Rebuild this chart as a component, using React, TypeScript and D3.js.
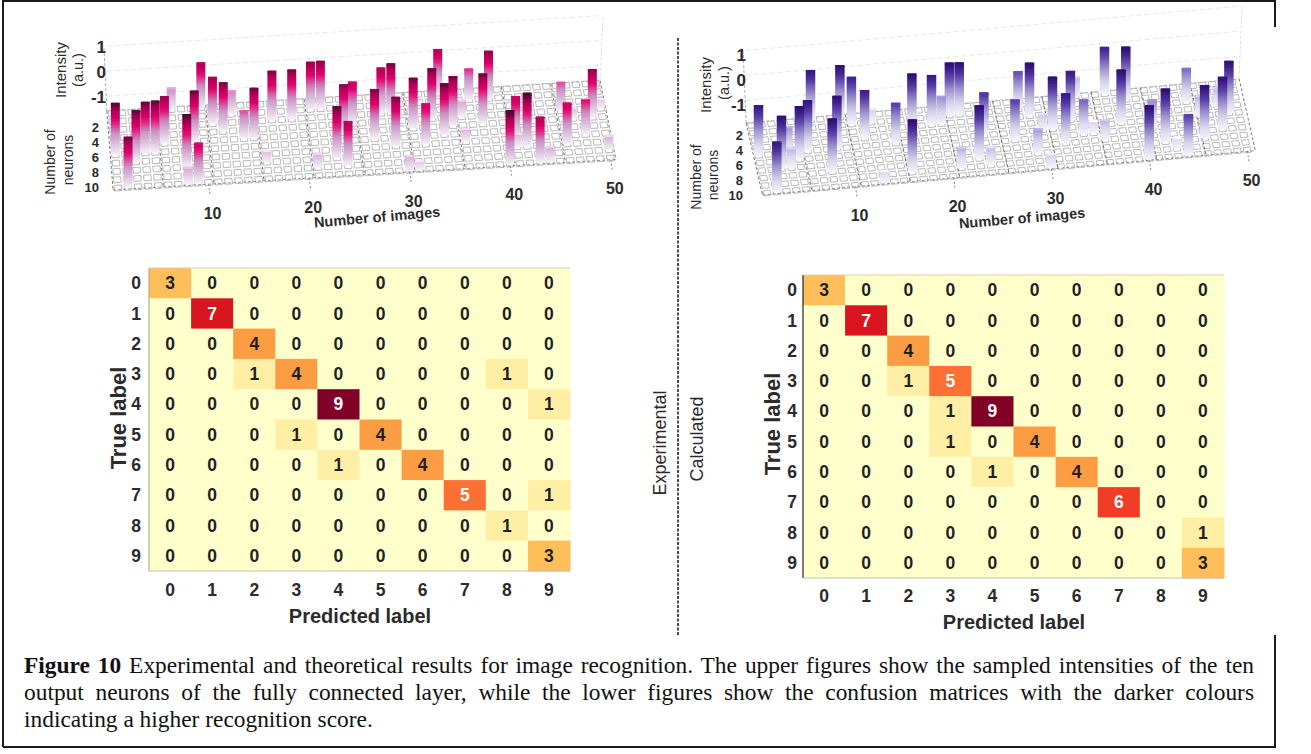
import * as d3 from "d3";
import React, { useLayoutEffect, useRef } from "react";

// upper left plot (experimental), one entry per bar
const expImages = [1,2,3,4,5,6,7,8,8,9,9,10,11,12,13,14,15,16,17,19,21,21,22,23,24,24,25,27,28,29,29,30,31,31,32,33,34,34,35,36,36,37,38,39,40,41,41,42,43,44,46,46,47,48,49,50,50];
const expNeurons = [6,10,7,6,6,5,1,8,10,5,10,1,3,4,2,5,5,8,3,3,2,9,2,8,5,9,4,6,3,3,7,10,5,10,7,4,1,6,5,4,7,2,5,2,10,7,8,8,10,10,4,8,5,7,5,4,9];
const expIntensity = [0.48,0.43,0.48,0.45,0.47,0.3,-0.71,0.52,-0.92,0.44,0.02,0.22,0.28,0.37,-0.63,-0.46,0.41,-1.11,0.38,0.38,0.31,-1.01,0.32,0.48,0.33,0.19,0.08,0.4,0.24,0.38,0.37,-0.99,0.42,-1.21,0.04,0.42,0.17,0.46,0.39,-0.93,-1.05,-0.35,0.42,0.31,0.57,0.11,-1.04,0.55,0.23,-0.97,-0.44,0.06,-1.13,-0.2,0.33,-1.19,-1.01];

// upper right plot (calculated)
const calcImages = [1,2,3,4,4,5,6,7,8,9,10,11,12,13,13,15,16,17,19,20,21,21,22,23,24,24,27,28,29,29,30,30,31,32,33,34,34,35,36,37,38,39,40,41,42,43,44,45,46,46,48,48,49];
const calcNeurons = [5,10,7,5,7,6,5,1,8,5,1,2,4,2,10,5,9,3,3,3,2,9,2,8,5,9,6,2,3,8,5,10,5,7,4,1,6,6,7,1,5,2,10,6,8,9,10,3,5,8,4,7,5];
const calcIntensity = [0.12,0.12,0.22,-0.85,-1.1,0.24,0.14,0.11,0.24,0.21,0.2,0,0.03,-1.32,-1.4,-0.28,0.22,0.22,0.09,-0.78,0.22,-1.05,0.19,0.24,-0.18,-1.16,-0.27,-0.37,0.23,-0.9,-1.22,-1.32,0.2,0.1,0.06,-1.11,-0.51,-1.38,-1.07,-0.02,0.24,0.22,0.25,-0.76,0.24,-1.43,-0.26,-0.54,-1.06,0.24,-1.13,0.2,0.2];

const imageTicks = [10, 20, 30, 40, 50];
const neuronTicks = [2, 4, 6, 8, 10];
const intensityTicks = [1, 0, -1];
const labels = d3.range(10);

const expMatrix = [
  [3,0,0,0,0,0,0,0,0,0],
  [0,7,0,0,0,0,0,0,0,0],
  [0,0,4,0,0,0,0,0,0,0],
  [0,0,1,4,0,0,0,0,1,0],
  [0,0,0,0,9,0,0,0,0,1],
  [0,0,0,1,0,4,0,0,0,0],
  [0,0,0,0,1,0,4,0,0,0],
  [0,0,0,0,0,0,0,5,0,1],
  [0,0,0,0,0,0,0,0,1,0],
  [0,0,0,0,0,0,0,0,0,3],
];
const calcMatrix = [
  [3,0,0,0,0,0,0,0,0,0],
  [0,7,0,0,0,0,0,0,0,0],
  [0,0,4,0,0,0,0,0,0,0],
  [0,0,1,5,0,0,0,0,0,0],
  [0,0,0,1,9,0,0,0,0,0],
  [0,0,0,1,0,4,0,0,0,0],
  [0,0,0,0,1,0,4,0,0,0],
  [0,0,0,0,0,0,0,6,0,0],
  [0,0,0,0,0,0,0,0,0,1],
  [0,0,0,0,0,0,0,0,0,3],
];

const SANS = "'Liberation Sans', Arial, sans-serif";
const SERIF = "'Liberation Serif', 'Times New Roman', serif";
const TEXT = "#2b2b2b";

function Bars3D(props: any) {
  const { id, images, neurons, intensity, geo, stops, l } = props;
  const xI = d3.scaleLinear().domain([1, 50]).range(geo.xI);
  const yI = d3.scaleLinear().domain([1, 50]).range(geo.yI);
  const slope = d3.scaleLinear().domain([1, 50]).range(geo.slope);
  const zH = d3.scaleLinear().domain([geo.floor, geo.floor + 1]).range([0, 25]);
  const ramp = d3.scaleLinear<string>().domain(stops.map((s: any) => s[0])).range(stops.map((s: any) => s[1])).clamp(true);

  const px = (i: number, n: number) => xI(i) - (10 - n) * slope(i);
  const py = (i: number, n: number) => yI(i) - (10 - n) * geo.dn;
  const quad = (pts: number[][]) => {
    const p = d3.path();
    pts.forEach((q, k) => (k ? p.lineTo(q[0], q[1]) : p.moveTo(q[0], q[1])));
    p.closePath();
    return p.toString();
  };

  const [i0, i1] = geo.iRange;
  const [n0, n1] = geo.nRange;
  const cells: string[] = [];
  d3.range(1, 51).forEach((i) =>
    d3.range(1, 11).forEach((n) => {
      cells.push(quad([
        [px(i - 0.36, n - 0.34), py(i - 0.36, n - 0.34)],
        [px(i + 0.36, n - 0.34), py(i + 0.36, n - 0.34)],
        [px(i + 0.36, n + 0.34), py(i + 0.36, n + 0.34)],
        [px(i - 0.36, n + 0.34), py(i - 0.36, n + 0.34)],
      ]));
    })
  );

  const order = d3.range(images.length).sort((a, b) => neurons[a] - neurons[b] || images[a] - images[b]);
  const w = geo.barW;

  return (
    <g>
      <defs>
        <filter id={id + "-soft"} x="-5%" y="-5%" width="110%" height="110%">
          <feGaussianBlur stdDeviation="0.35" />
        </filter>
        {order.map((k) => (
          <linearGradient key={k} id={`${id}-b${k}`} x1={0} x2={0} y1={0} y2={1}>
            {d3.range(0, 1.01, 0.1).map((t) => (
              <stop key={t} offset={`${t * 100}%`} stopColor={ramp((1 - t) * zH(intensity[k]))} />
            ))}
          </linearGradient>
        ))}
      </defs>

      <g filter={`url(#${id}-soft)`}>
        {/* back walls */}
        {intensityTicks.map((z) => (
          <line key={z} x1={px(i0, n0)} x2={px(i1, n0)} y1={py(i0, n0) - zH(z)} y2={py(i1, n0) - zH(z)} stroke="#e6e6e6" strokeDasharray="5 3" />
        ))}
        <line x1={px(i0, n0)} x2={px(i0, n0) - 3} y1={py(i0, n0)} y2={py(i0, n0) - zH(1)} stroke="#aaa" strokeDasharray="3 2" />
        <line x1={px(i1, n0)} x2={px(i1, n0) + 3} y1={py(i1, n0)} y2={py(i1, n0) - zH(1)} stroke="#ddd" strokeDasharray="3 2" />

        {/* floor */}
        {cells.map((d, k) => (
          <path key={k} d={d} fill="#fff" stroke="#a8a8a8" strokeWidth={0.8} />
        ))}
        {d3.range(0, 11).map((k) => {
          const i = i0 + ((i1 - i0) * k) / 10;
          return <line key={k} x1={px(i, n0)} x2={px(i, n1)} y1={py(i, n0)} y2={py(i, n1)} stroke="#555" strokeWidth={0.8} strokeDasharray="3 2" />;
        })}
        <line x1={px(i0, n1)} x2={px(i1, n1)} y1={py(i0, n1)} y2={py(i1, n1)} stroke="#777" strokeWidth={0.8} strokeDasharray="3 2" />
        <line x1={px(i0, n0)} x2={px(i1, n0)} y1={py(i0, n0)} y2={py(i1, n0)} stroke="#aaa" strokeWidth={0.7} strokeDasharray="3 2" />

        {/* tick marks */}
        {imageTicks.map((t) => (
          <line key={t} x1={px(t, n1)} x2={px(t, n1) + 1.5} y1={py(t, n1)} y2={py(t, n1) + 11} stroke="#888" strokeDasharray="2 2" />
        ))}

        {/* bars, back row first */}
        {order.map((k) => {
          const x = px(images[k], neurons[k]);
          const base = py(images[k], neurons[k]);
          const h = zH(intensity[k]);
          return (
            <g key={k}>
              <rect x={x - w / 2} y={base - h} width={w} height={h} fill={`url(#${id}-b${k})`} />
              <path
                d={quad([[x - w / 2, base - h + 2], [x + w / 2, base - h + 2], [x + w / 2 - 1, base - h], [x - w / 2 + 1, base - h]])}
                fill={d3.color(ramp(h))!.brighter(0.5).formatHex()}
              />
            </g>
          );
        })}
      </g>

      {/* axis text */}
      <g fontFamily={SANS} fill={TEXT}>
        {imageTicks.map((t) => (
          <text key={t} x={px(t, n1) + 4} y={py(t, n1) + 29} dy="0.35em" textAnchor="middle" fontSize={16} fontWeight="bold">{t}</text>
        ))}
        {intensityTicks.map((t, k) => (
          <text key={t} x={l.zX} y={l.zY[k]} dy="0.35em" textAnchor="end" fontSize={17} fontWeight="bold">{t}</text>
        ))}
        {neuronTicks.map((t, k) => (
          <text key={t} x={l.nX} y={l.nY[k]} dy="0.35em" textAnchor="end" fontSize={13} fontWeight="bold">{t}</text>
        ))}
        <text transform={`translate(${l.int[0]},${l.int[1]}) rotate(-90)`} textAnchor="middle" dy="0.35em" fontSize={15}>Intensity</text>
        <text transform={`translate(${l.au[0]},${l.au[1]}) rotate(-90)`} textAnchor="middle" dy="0.35em" fontSize={14.5}>(a.u.)</text>
        <text transform={`translate(${l.num[0]},${l.num[1]}) rotate(-90)`} textAnchor="middle" dy="0.35em" fontSize={14}>Number of</text>
        <text transform={`translate(${l.neu[0]},${l.neu[1]}) rotate(-90)`} textAnchor="middle" dy="0.35em" fontSize={14}>neurons</text>
        <text transform={`translate(${l.img[0]},${l.img[1]}) rotate(-5)`} textAnchor="middle" dy="0.35em" fontSize={14.5} fontWeight="bold">Number of images</text>
      </g>
    </g>
  );
}

function Matrix(props: any) {
  const { values, left, top, rowX, colY, trueAt, predAt, border } = props;
  const x = d3.scaleBand<number>().domain(labels).range([left, left + 421]);
  const y = d3.scaleBand<number>().domain(labels).range([top, top + 303]);
  const color = d3.scaleSequential(d3.interpolateYlOrRd).domain([0, 9]);

  return (
    <g fontFamily={SANS} fontWeight="bold">
      {values.map((row: number[], r: number) =>
        row.map((v: number, c: number) => (
          <rect key={`${r}-${c}`} x={x(c)} y={y(r)} width={x.bandwidth() + 0.5} height={y.bandwidth() + 0.5} fill={color(v)} />
        ))
      )}
      <line x1={left} x2={left} y1={top} y2={top + 303} stroke={border} strokeWidth={1.2} />
      <line x1={left} x2={left + 421} y1={top} y2={top} stroke="#d8d0a8" />
      <line x1={left} x2={left + 421} y1={top + 303} y2={top + 303} stroke="#c4c4b0" />
      {values.map((row: number[], r: number) =>
        row.map((v: number, c: number) => (
          <text key={`${r}-${c}`} x={x(c)! + x.bandwidth() / 2} y={y(r)! + y.bandwidth() / 2} dy="0.35em" textAnchor="middle" fontSize={17.5} fill={v >= 5 ? "#fff" : "#1f1f1f"}>{v}</text>
        ))
      )}
      {labels.map((t) => (
        <text key={t} x={rowX} y={y(t)! + y.bandwidth() / 2} dy="0.35em" textAnchor="middle" fontSize={17.5} fill={TEXT}>{t}</text>
      ))}
      {labels.map((t) => (
        <text key={t} x={x(t)! + x.bandwidth() / 2} y={colY} dy="0.35em" textAnchor="middle" fontSize={17.5} fill={TEXT}>{t}</text>
      ))}
      <text transform={`translate(${trueAt[0]},${trueAt[1]}) rotate(-90)`} textAnchor="middle" dy="0.35em" fontSize={22} fill={TEXT}>True label</text>
      <text x={predAt[0]} y={predAt[1]} textAnchor="middle" dy="0.35em" fontSize={20} fill={TEXT}>Predicted label</text>
    </g>
  );
}

const pinkStops = [[0, "#f6eff6"], [10, "#dcc4de"], [22, "#c98cc2"], [34, "#e4006c"], [46, "#a00050"], [53, "#3a0a26"]];
const blueStops = [[0, "#f4f3fa"], [12, "#d9d5ec"], [26, "#9c90cc"], [40, "#5236a4"], [53, "#2a0a6a"]];

const expGeo = { xI: [118, 610.5], yI: [188, 158.1], slope: [0.67, 1.65], dn: 8.3, floor: -1.6, barW: 9, iRange: [0.5, 50.5], nRange: [0.7, 10.2] };
const calcGeo = { xI: [767, 1247.2], yI: [193, 149.9], slope: [1.7, 1.7], dn: 7.5, floor: -1.9, barW: 9.5, iRange: [0.5, 50.8], nRange: [0.6, 10.2] };

const expLabels = { zX: 106, zY: [47, 72, 97], nX: 99, nY: [127, 142, 157, 172, 187], int: [61, 70], au: [78, 70], num: [50, 162], neu: [68, 160], img: [377, 217] };
const calcLabels = { zX: 746, zY: [55, 80, 105], nX: 743, nY: [135, 150, 165, 180, 195], int: [706, 85], au: [724, 83], num: [696, 177], neu: [713, 175], img: [1022, 218] };

const captionLines = [
  { bold: "Figure 10", rest: " Experimental and theoretical results for image recognition. The upper figures show the sampled intensities of the ten" },
  { bold: "", rest: "output neurons of the fully connected layer, while the lower figures show the confusion matrices with the darker colours" },
  { bold: "", rest: "indicating a higher recognition score.", last: true },
];

export default function App() {
  const capRef = useRef<SVGGElement>(null);

  // justify the caption the way the page does
  useLayoutEffect(() => {
    d3.select(capRef.current).selectAll<SVGTextElement, unknown>("text.just").each(function () {
      const gaps = (this.textContent || "").trim().split(/\s+/).length - 1;
      const len = this.getComputedTextLength();
      this.style.wordSpacing = `${(1230 - len) / gaps}px`;
    });
  }, []);

  return (
    <svg width={1311} height={754} style={{ position: "absolute", left: 0, top: 0, background: "#fff", display: "block" }}>
      {/* frame */}
      <path d="M3,747 L3,1 L1275,1 L1275,27 M1275,635 L1275,747 L3,747" fill="none" stroke="#1a1a1a" strokeWidth={2} />

      <Bars3D id="exp" images={expImages} neurons={expNeurons} intensity={expIntensity} geo={expGeo} stops={pinkStops} l={expLabels} />
      <Bars3D id="calc" images={calcImages} neurons={calcNeurons} intensity={calcIntensity} geo={calcGeo} stops={blueStops} l={calcLabels} />

      <Matrix values={expMatrix} left={149} top={268} rowX={136} colY={590} trueAt={[118, 418]} predAt={[360, 616]} border="#b8ad85" />
      <Matrix values={calcMatrix} left={803} top={275} rowX={792} colY={596} trueAt={[772, 424]} predAt={[1014, 622]} border="#222" />

      {/* divider */}
      <line x1={678} x2={678} y1={38} y2={635} stroke="#111" strokeWidth={1.5} strokeDasharray="3 1.5" />
      <g fontFamily={SANS} fontSize={18} fill={TEXT}>
        <text transform="translate(660,443) rotate(-90)" textAnchor="middle" dy="0.35em">Experimental</text>
        <text transform="translate(697,439) rotate(-90)" textAnchor="middle" dy="0.35em">Calculated</text>
      </g>

      {/* caption */}
      <g ref={capRef} fontFamily={SERIF} fontSize={23.4} fill="#111">
        {captionLines.map((c, k) => (
          <text key={k} className={c.last ? "" : "just"} x={24} y={672.5 + k * 27} xmlSpace="preserve">
            {c.bold && <tspan fontWeight="bold">{c.bold}</tspan>}
            {c.rest}
          </text>
        ))}
      </g>
    </svg>
  );
}
